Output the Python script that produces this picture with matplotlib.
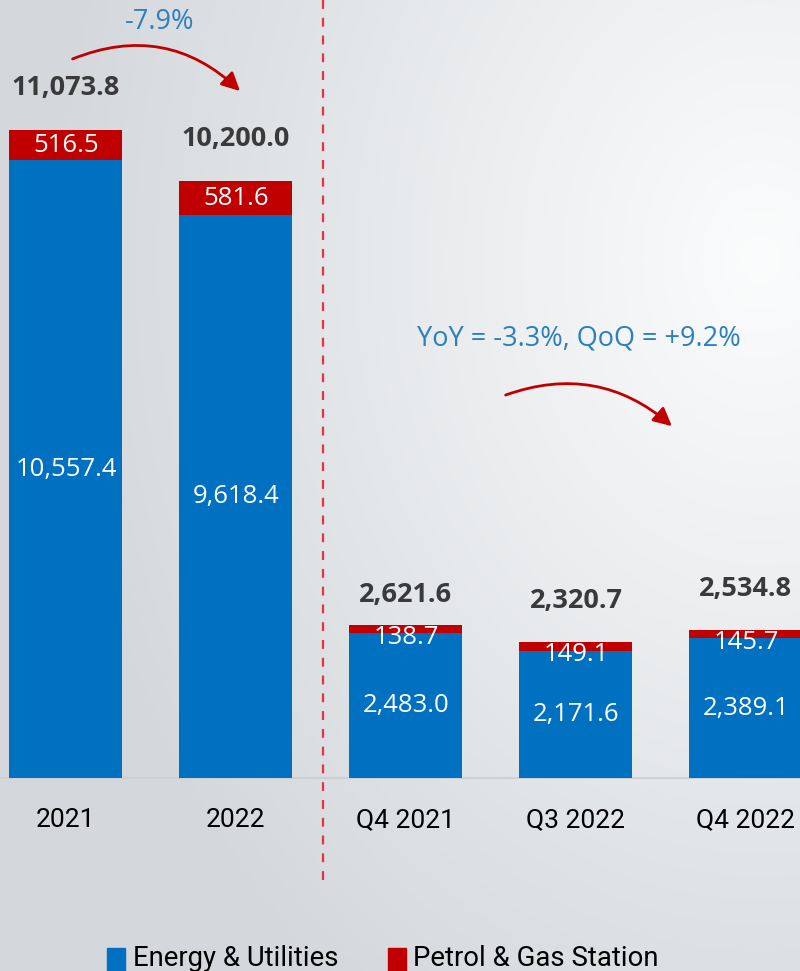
import matplotlib.pyplot as plt
import matplotlib.patches as mpatches
import numpy as np

# Data
categories = ['2021', '2022', 'Q4 2021', 'Q3 2022', 'Q4 2022']
energy = [10557.4, 9618.4, 2483.0, 2171.6, 2389.1]
petrol = [516.5, 581.6, 138.7, 149.1, 145.7]
totals = [11073.8, 10200.0, 2621.6, 2320.7, 2534.8]
series_names = ['Energy & Utilities', 'Petrol & Gas Station']

BLUE = '#0070c0'
RED = '#c00000'
TXT_BLUE = '#2b80bd'
DARK = '#3a3a3a'

W, H = 800, 971
fig = plt.figure(figsize=(W / 100, H / 100), dpi=100)

# Background gradient (light grey with a bright spot on the right)
bg = fig.add_axes([0, 0, 1, 1])
yy, xx = np.mgrid[0:H, 0:W]
d = np.sqrt(((xx - 760) / 700.0) ** 2 + ((yy - 260) / 900.0) ** 2)
d = np.clip(d, 0, 1)
c0 = np.array([0.985, 0.988, 0.99])
c1 = np.array([0.835, 0.85, 0.865])
img = c0[None, None, :] * (1 - d[..., None]) + c1[None, None, :] * d[..., None]
bg.imshow(img, aspect='auto', extent=[0, 1, 0, 1])
bg.set_axis_off()

ax = fig.add_axes([0, 0, 1, 1])
ax.patch.set_alpha(0)
x = np.arange(len(categories))
bw = 0.665
ax.bar(x, energy, bw, color=BLUE, zorder=3)
ax.bar(x, petrol, bw, bottom=energy, color=RED, zorder=3)
ax.set_xlim(-0.388, 4.318)
ax.set_ylim(-3298, 13295)
ax.set_axis_off()

# baseline
ax.axhline(0, color='#cdd0d4', lw=1.5, zorder=2)

# divider between yearly and quarterly
ax.plot([1.512, 1.512], [-1743, 13295], ls=(0, (4, 4)), color='#e8333a', lw=1.6, zorder=2)

val_font = 'Open Sans'
cat_font = ['Roboto', 'DejaVu Sans']

total_off = [21, 21, 12, 20, 20]
for i in range(len(categories)):
    ax.annotate(f'{totals[i]:,.1f}', (x[i], totals[i]), xytext=(0, total_off[i]),
                textcoords='offset points', ha='center', va='bottom',
                fontsize=19.5, fontweight='bold', color=DARK, family=val_font)
    ax.text(x[i], energy[i] / 2, f'{energy[i]:,.1f}', ha='center', va='center',
            fontsize=18.5, color='white', family=val_font, zorder=4)
    if i < 2:
        ax.text(x[i], energy[i] + petrol[i] / 2, f'{petrol[i]:,.1f}', ha='center',
                va='center', fontsize=18.5, color='white', family=val_font, zorder=4)
    else:
        ax.annotate(f'{petrol[i]:,.1f}', (x[i], totals[i]), xytext=(0, -9),
                    textcoords='offset points', ha='center', va='center',
                    fontsize=18.5, color='white', family=val_font, zorder=4)
    ax.text(x[i], -718, categories[i], ha='center', va='center',
            fontsize=19, color='black', family=cat_font)


def fx(px):
    return px / W


def fy(py):
    return 1 - py / H


# growth annotations
ax.text(fx(160), fy(22), '-7.9%', transform=ax.transAxes, ha='center', va='center',
        fontsize=19.5, color=TXT_BLUE, family=val_font)
ax.annotate('', xy=(fx(242), fy(93)), xytext=(fx(70), fy(60)),
            xycoords='axes fraction', textcoords='axes fraction',
            arrowprops=dict(arrowstyle='-|>,head_length=1.1,head_width=0.55', color=RED,
                            lw=2, connectionstyle='arc3,rad=-0.33'))
ax.text(fx(579), fy(338), 'YoY = -3.3%, QoQ = +9.2%', transform=ax.transAxes,
        ha='center', va='center', fontsize=19.5, color=TXT_BLUE, family=val_font)
ax.annotate('', xy=(fx(674), fy(428)), xytext=(fx(503), fy(396)),
            xycoords='axes fraction', textcoords='axes fraction',
            arrowprops=dict(arrowstyle='-|>,head_length=1.1,head_width=0.55', color=RED,
                            lw=2, connectionstyle='arc3,rad=-0.3'))

# legend
for sx, tx, col, name in [(107, 133, BLUE, series_names[0]), (388, 413, RED, series_names[1])]:
    fig.patches.append(mpatches.Rectangle((fx(sx), fy(971)), 18 / W, 23 / H,
                                          transform=fig.transFigure, color=col))
    fig.text(fx(tx), fy(958), name, ha='left', va='center', fontsize=19.8,
             color='black', family=cat_font)

fig.savefig('out.png', dpi=100)
